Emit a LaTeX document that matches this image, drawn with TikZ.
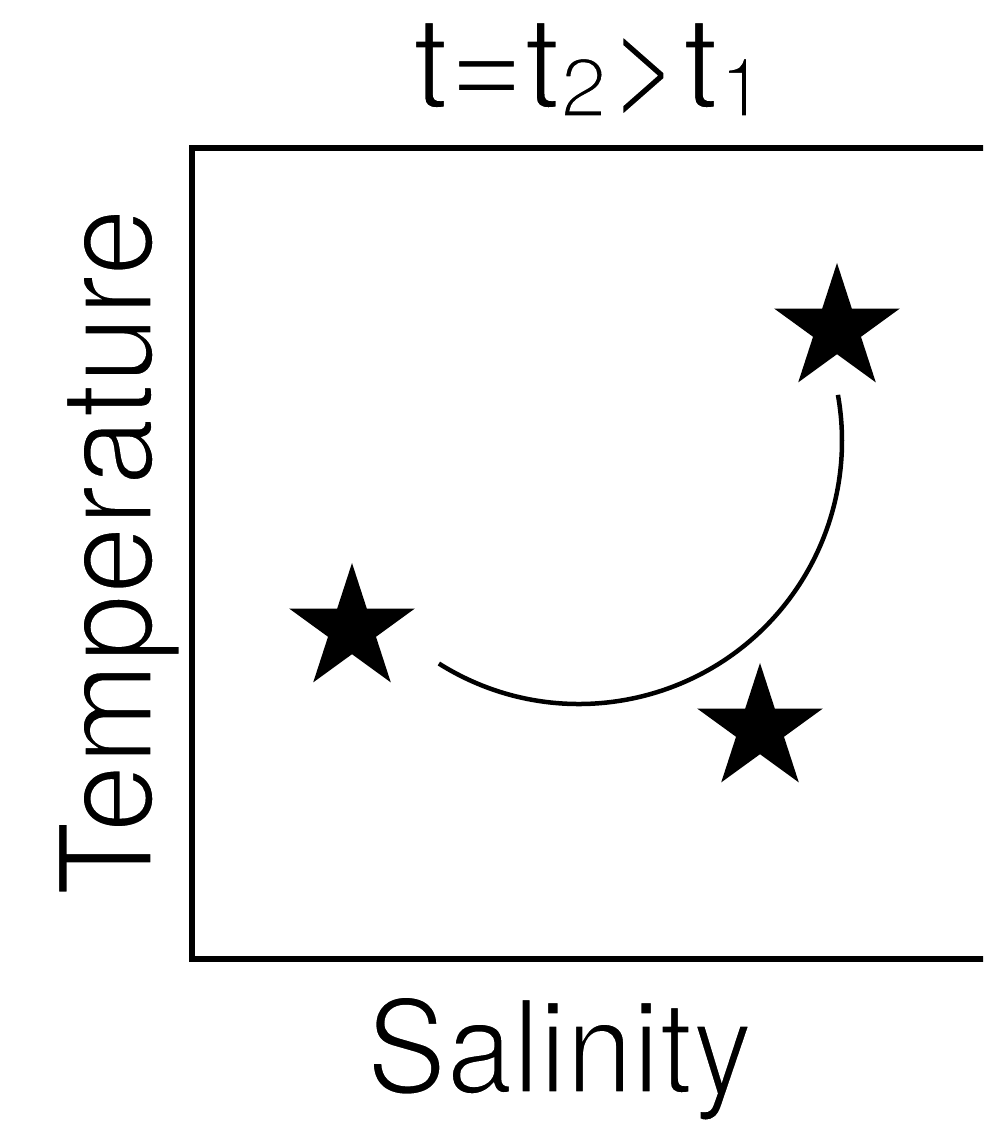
\documentclass[tikz,border=0pt]{standalone}
\usepackage{fontspec}
\usepackage{graphicx}
\setmainfont{TeX Gyre Heros}
\usetikzlibrary{shapes.geometric}
\tikzset{
  frame/.style={line width=6pt, line cap=rect},
  mystar/.style={star, star points=5, star point ratio=2.618, fill=black, draw=none, inner sep=0pt, minimum size=132pt},
  curveline/.style={line width=4.5pt},
  big/.style={font=\fontsize{129.5}{130}\selectfont, inner sep=0pt},
}
\newcommand{\subsz}[1]{\raisebox{-9pt}{\fontsize{84}{84}\selectfont #1}}
\newcommand{\lighttext}[1]{\special{pdf:code q 2 Tr 3.2 w 1 1 1 RG}#1\special{pdf:code Q}}
\begin{document}
\begin{tikzpicture}[x=1pt,y=1pt]
\useasboundingbox (0,0) rectangle (983,1124);
\clip (0,0) rectangle (983,1124);
% axes box (right edge beyond picture)
\draw[frame] (1010,976) -- (191.5,976) -- (191.5,165) -- (1010,165);
% labels
\node[big, anchor=base] (title) at (589,1016) {\lighttext{t=t\subsz{2}>t\subsz{1}}};
\node[big, anchor=base, rotate=90] (ylab) at (152,572) {\lighttext{\scalebox{0.945}[1]{Temperature}}};
\node[big, anchor=base] (xlab) at (559.5,31) {\lighttext{\scalebox{0.925}[1]{Salinity}}};
% stars
\node[mystar] (s1) at (352,495) {};
\node[mystar] (s2) at (760,395) {};
\node[mystar] (s3) at (837,795) {};
% curve
\coordinate (c) at (579,683);
\draw[curveline] (c) ++(237.8:263) arc[start angle=237.8, end angle=370.1, radius=263];
\end{tikzpicture}
\end{document}
